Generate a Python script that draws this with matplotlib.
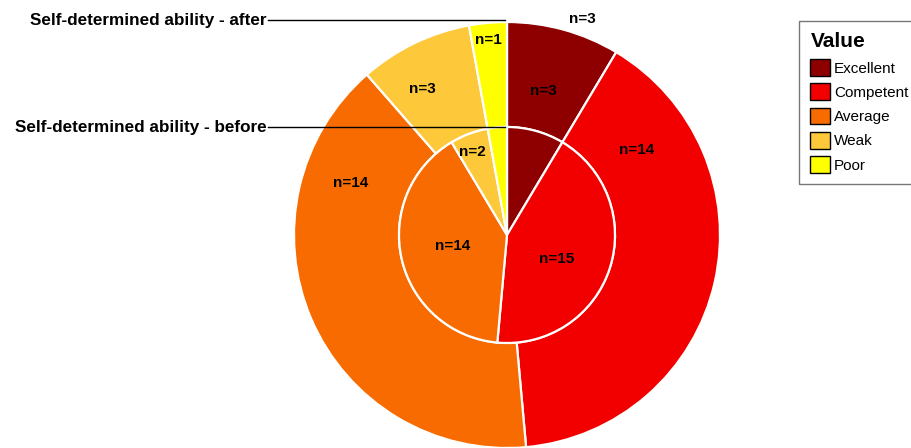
import matplotlib
matplotlib.use("Agg")
import matplotlib.pyplot as plt
from matplotlib.patches import Patch

plt.rcParams['font.family'] = ['Liberation Sans', 'DejaVu Sans']

categories = ['Excellent', 'Competent', 'Average', 'Weak', 'Poor']
colors = ['#8e0000', '#f20000', '#f76b00', '#fdc93a', '#ffff00']
after_counts = [3, 14, 14, 3, 1]
before_counts = [3, 15, 14, 2, 1]

# label offsets (pixels from pie centre, y up) as placed in the original
after_label_pos = [(36, 144), (130, 85), (-156, 52), (-85, 146), (-19, 195)]
before_label_pos = [(75, 216), (50, -24), (-54, -11), (-35, 83), None]

W, H = 912, 448
cx, cy = 507, H - 235
r_out, r_in = 213, 108

fig = plt.figure(figsize=(W / 100, H / 100), dpi=100)
ax = fig.add_axes([0, 0, 1, 1])

ax.pie(after_counts, colors=colors, radius=r_out, center=(cx, cy),
       startangle=90, counterclock=False, frame=True,
       wedgeprops=dict(width=r_out - r_in, edgecolor='white', linewidth=1.6))
ax.pie(before_counts, colors=colors, radius=r_in, center=(cx, cy),
       startangle=90, counterclock=False, frame=True,
       wedgeprops=dict(edgecolor='white', linewidth=1.6))
ax.set_xlim(0, W)
ax.set_ylim(0, H)
ax.set_aspect('equal')
ax.axis('off')

for n, pos in zip(after_counts, after_label_pos):
    ax.text(cx + pos[0], cy + pos[1], 'n=%d' % n, ha='center', va='center',
            fontsize=11, fontweight='bold')
for n, pos in zip(before_counts, before_label_pos):
    if pos is None:
        continue
    ax.text(cx + pos[0], cy + pos[1], 'n=%d' % n, ha='center', va='center',
            fontsize=11, fontweight='bold')

# leader lines to the rings
ax.plot([268, cx - 2], [H - 20, H - 20], color='black', lw=1)
ax.text(267, H - 20, 'Self-determined ability - after', ha='right', va='center',
        fontsize=12.3, fontweight='bold')
ax.plot([268, cx - 2], [cy + r_in, cy + r_in], color='black', lw=1)
ax.text(267, cy + r_in, 'Self-determined ability - before', ha='right', va='center',
        fontsize=12.3, fontweight='bold')

handles = [Patch(facecolor=c, edgecolor='black', linewidth=1) for c in colors]
leg = ax.legend(handles, categories, title='Value', loc='upper left',
                bbox_to_anchor=(799 / W, 1 - 21 / H), fontsize=11,
                title_fontproperties={'size': 15, 'weight': 'bold'},
                handlelength=1.3, handleheight=1.3, handletextpad=0.25,
                labelspacing=0.5, borderpad=0.75, borderaxespad=0,
                fancybox=False, alignment='left')
leg.get_frame().set_edgecolor('#555555')
leg.get_frame().set_linewidth(1)

fig.savefig('out.png', dpi=100)
